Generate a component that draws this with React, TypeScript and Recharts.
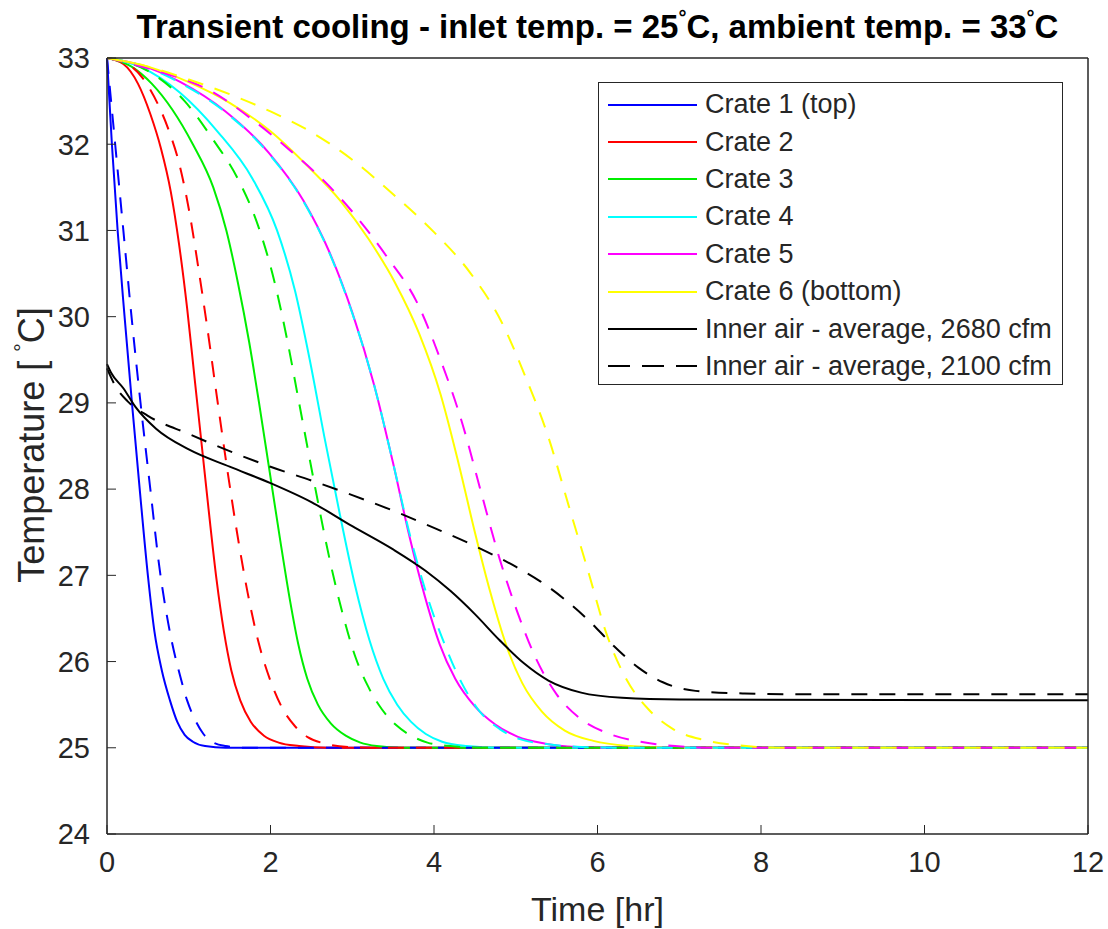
import React from "react";
import { LineChart, Line, XAxis, YAxis, Legend } from "recharts";

// [time (hr), temperature (°C)] pairs
type Pt = [number, number];

const timeTicks = [0, 2, 4, 6, 8, 10, 12];
const tempTicks = [24, 25, 26, 27, 28, 29, 30, 31, 32, 33];

// 2680 cfm runs (solid)
const crate1Solid: Pt[] = [[0, 33], [0.03, 32.5], [0.06, 32], [0.13, 31], [0.215, 30], [0.305, 29], [0.4, 28], [0.5, 27], [0.58, 26.35], [0.67, 25.9], [0.77, 25.55], [0.86, 25.3], [0.95, 25.15], [1.05, 25.07], [1.2, 25.02], [1.45, 25], [12, 25]];
const crate2Solid: Pt[] = [[0, 33], [0.2, 32.93], [0.38, 32.7], [0.53, 32.35], [0.66, 31.95], [0.78, 31.45], [0.88, 30.85], [0.98, 30.1], [1.07, 29.3], [1.16, 28.5], [1.25, 27.7], [1.34, 26.95], [1.43, 26.35], [1.52, 25.9], [1.63, 25.55], [1.76, 25.3], [1.92, 25.14], [2.1, 25.06], [2.35, 25.02], [2.7, 25], [12, 25]];
const crate3Solid: Pt[] = [[0, 33], [0.3, 32.9], [0.55, 32.7], [0.8, 32.4], [1.05, 32.0], [1.3, 31.5], [1.46, 31.0], [1.6, 30.4], [1.74, 29.7], [1.86, 29.0], [1.99, 28.2], [2.12, 27.4], [2.24, 26.7], [2.34, 26.2], [2.45, 25.8], [2.58, 25.5], [2.74, 25.28], [2.92, 25.14], [3.1, 25.06], [3.3, 25.02], [3.6, 25], [12, 25]];
const crate4Solid: Pt[] = [[0, 33], [0.4, 32.9], [0.89, 32.6], [1.35, 32.15], [1.78, 31.6], [2.08, 31.0], [2.3, 30.3], [2.48, 29.5], [2.66, 28.6], [2.85, 27.7], [3.03, 26.9], [3.21, 26.25], [3.38, 25.8], [3.55, 25.5], [3.72, 25.3], [3.9, 25.16], [4.1, 25.07], [4.4, 25.02], [4.8, 25], [12, 25]];
const crate5Solid: Pt[] = [[0, 33], [0.4, 32.92], [0.9, 32.72], [1.45, 32.38], [1.98, 31.9], [2.4, 31.35], [2.72, 30.75], [3.0, 30.05], [3.27, 29.2], [3.5, 28.3], [3.7, 27.45], [3.89, 26.75], [4.07, 26.2], [4.26, 25.8], [4.5, 25.48], [4.75, 25.27], [5.02, 25.13], [5.35, 25.05], [5.75, 25.01], [6.2, 25], [12, 25]];
const crate6Solid: Pt[] = [[0, 33], [0.5, 32.9], [1.0, 32.72], [1.5, 32.48], [2.0, 32.15], [2.45, 31.75], [2.85, 31.35], [3.2, 30.9], [3.52, 30.4], [3.82, 29.8], [4.08, 29.1], [4.3, 28.3], [4.5, 27.5], [4.69, 26.8], [4.88, 26.2], [5.08, 25.75], [5.32, 25.42], [5.6, 25.2], [5.95, 25.08], [6.4, 25.02], [6.9, 25], [12, 25]];
const airSolid: Pt[] = [[0, 29.45], [0.05, 29.35], [0.2, 29.17], [0.35, 28.95], [0.6, 28.7], [1.0, 28.46], [1.5, 28.26], [2.0, 28.07], [2.5, 27.85], [3.0, 27.57], [3.5, 27.3], [3.9, 27.05], [4.2, 26.82], [4.5, 26.55], [4.8, 26.25], [5.1, 25.98], [5.4, 25.78], [5.8, 25.64], [6.3, 25.58], [7, 25.56], [12, 25.55]];

// 2100 cfm runs (dashed)
const crate1Dashed: Pt[] = [[0, 33], [0.1, 32], [0.2, 31], [0.3, 30], [0.41, 29], [0.53, 28], [0.64, 27.1], [0.72, 26.6], [0.8, 26.2], [0.89, 25.85], [0.98, 25.55], [1.08, 25.32], [1.18, 25.16], [1.3, 25.06], [1.45, 25.02], [1.7, 25], [12, 25]];
const crate2Dashed: Pt[] = [[0, 33], [0.3, 32.9], [0.5, 32.68], [0.63, 32.45], [0.76, 32.15], [0.89, 31.75], [1.01, 31.2], [1.12, 30.55], [1.23, 29.85], [1.34, 29.1], [1.46, 28.3], [1.59, 27.5], [1.72, 26.8], [1.86, 26.2], [2.01, 25.75], [2.15, 25.45], [2.3, 25.25], [2.46, 25.12], [2.66, 25.05], [2.95, 25.01], [3.3, 25], [12, 25]];
const crate3Dashed: Pt[] = [[0, 33], [0.5, 32.85], [0.95, 32.5], [1.3, 32.05], [1.6, 31.6], [1.85, 31.05], [2.05, 30.4], [2.2, 29.75], [2.35, 29.0], [2.55, 28.0], [2.72, 27.2], [2.87, 26.6], [3.04, 26.05], [3.2, 25.7], [3.36, 25.45], [3.54, 25.26], [3.72, 25.14], [3.92, 25.06], [4.2, 25.02], [4.6, 25], [12, 25]];
const crate4Dashed: Pt[] = [[0, 33], [0.4, 32.92], [0.9, 32.71], [1.45, 32.37], [1.98, 31.89], [2.4, 31.34], [2.72, 30.74], [3.0, 30.04], [3.27, 29.2], [3.5, 28.3], [3.71, 27.45], [3.92, 26.75], [4.13, 26.2], [4.34, 25.75], [4.56, 25.42], [4.8, 25.22], [5.05, 25.1], [5.4, 25.04], [5.8, 25.01], [6.3, 25], [12, 25]];
const crate5Dashed: Pt[] = [[0, 33], [0.5, 32.88], [1.3, 32.6], [1.8, 32.27], [2.25, 31.92], [2.68, 31.55], [3.06, 31.15], [3.42, 30.7], [3.8, 30.15], [4.08, 29.5], [4.35, 28.75], [4.58, 27.95], [4.8, 27.2], [5.01, 26.6], [5.24, 26.05], [5.5, 25.62], [5.8, 25.33], [6.15, 25.16], [6.52, 25.07], [6.95, 25.02], [7.4, 25], [12, 25]];
const crate6Dashed: Pt[] = [[0, 33], [0.5, 32.9], [1.0, 32.75], [1.5, 32.58], [2.0, 32.38], [2.5, 32.14], [3.0, 31.82], [3.5, 31.42], [4.0, 30.98], [4.45, 30.5], [4.82, 29.95], [5.12, 29.3], [5.4, 28.6], [5.65, 27.8], [5.9, 27.0], [6.1, 26.35], [6.35, 25.8], [6.62, 25.45], [6.92, 25.22], [7.3, 25.09], [7.7, 25.03], [8.3, 25], [12, 25]];
const airDashed: Pt[] = [[0, 29.4], [0.1, 29.2], [0.25, 29.02], [0.5, 28.85], [1.0, 28.64], [1.5, 28.44], [2.0, 28.26], [2.5, 28.1], [3.0, 27.93], [3.5, 27.75], [4.0, 27.55], [4.5, 27.34], [5.0, 27.1], [5.3, 26.93], [5.6, 26.72], [5.9, 26.47], [6.2, 26.18], [6.5, 25.93], [6.8, 25.76], [7.2, 25.66], [7.8, 25.63], [8.5, 25.62], [12, 25.62]];

const FONT = '"Liberation Sans", Arial, Helvetica, sans-serif';
const INK = "#262626";
const DASH = "16 12";

const toRows = (pts: Pt[]) => pts.map(([t, T]) => ({ t, T }));

const series = [
  { key: "c1", name: "Crate 1 (top)", color: "#0000ff", pts: crate1Solid, dashed: false, legend: true },
  { key: "c2", name: "Crate 2", color: "#ff0000", pts: crate2Solid, dashed: false, legend: true },
  { key: "c3", name: "Crate 3", color: "#00ee00", pts: crate3Solid, dashed: false, legend: true },
  { key: "c4", name: "Crate 4", color: "#00ffff", pts: crate4Solid, dashed: false, legend: true },
  { key: "c5", name: "Crate 5", color: "#ff00ff", pts: crate5Solid, dashed: false, legend: true },
  { key: "c6", name: "Crate 6 (bottom)", color: "#ffff00", pts: crate6Solid, dashed: false, legend: true },
  { key: "a1", name: "Inner air - average, 2680 cfm", color: "#000000", pts: airSolid, dashed: false, legend: true },
  { key: "c1d", name: "Crate 1 - 2100 cfm", color: "#0000ff", pts: crate1Dashed, dashed: true, legend: false },
  { key: "c2d", name: "Crate 2 - 2100 cfm", color: "#ff0000", pts: crate2Dashed, dashed: true, legend: false },
  { key: "c3d", name: "Crate 3 - 2100 cfm", color: "#00ee00", pts: crate3Dashed, dashed: true, legend: false },
  { key: "c4d", name: "Crate 4 - 2100 cfm", color: "#00ffff", pts: crate4Dashed, dashed: true, legend: false },
  { key: "c5d", name: "Crate 5 - 2100 cfm", color: "#ff00ff", pts: crate5Dashed, dashed: true, legend: false },
  { key: "c6d", name: "Crate 6 - 2100 cfm", color: "#ffff00", pts: crate6Dashed, dashed: true, legend: false },
  { key: "a2", name: "Inner air - average, 2100 cfm", color: "#000000", pts: airDashed, dashed: true, legend: true },
];

function LegendBox() {
  return (
    <div
      style={{
        width: 465,
        height: 303,
        boxSizing: "border-box",
        border: `1.5px solid ${INK}`,
        background: "#fff",
        paddingTop: 3,
        fontFamily: FONT,
      }}
    >
      {series
        .filter((s) => s.legend)
        .map((s) => (
          <div key={s.key} style={{ display: "flex", alignItems: "center", height: 37.4 }}>
            <svg width={106} height={10} style={{ flex: "none" }}>
              <line x1={9} x2={98} y1={5} y2={5} stroke={s.color} strokeWidth={2} strokeDasharray={s.dashed ? "22 12" : undefined} />
            </svg>
            <span style={{ fontSize: 27, color: INK, whiteSpace: "nowrap", lineHeight: 1 }}>{s.name}</span>
          </div>
        ))}
    </div>
  );
}

const Title = () => (
  <text x={597.5} y={38} textAnchor="middle" fontSize={33} fontWeight="bold" fill="#000" fontFamily={FONT}>
    Transient cooling - inlet temp. = 25
    <tspan fontSize={20} dy={-14}>°</tspan>
    <tspan dy={14}>C, ambient temp. = 33</tspan>
    <tspan fontSize={20} dy={-14}>°</tspan>
    <tspan dy={14}>C</tspan>
  </text>
);

const XTitle = () => (
  <text x={597.5} y={921} textAnchor="middle" fontSize={34} fill={INK} fontFamily={FONT}>
    Time [hr]
  </text>
);

const YTitle = () => (
  <text x={44} y={445} transform="rotate(-90 44 445)" textAnchor="middle" fontSize={36} fill={INK} fontFamily={FONT}>
    Temperature [
    <tspan dx={9} fontSize={21} dy={-15}>°</tspan>
    <tspan dy={15}>C]</tspan>
  </text>
);

const tickStyle = { fontSize: 29, fill: INK, fontFamily: FONT };
const axisStyle = { stroke: INK, strokeWidth: 1.5 };

export default function App() {
  return (
    <div style={{ position: "absolute", left: 0, top: 0, width: 1108, height: 929, background: "#fff" }}>
      <LineChart width={1108} height={929} margin={{ top: 57, right: 19, bottom: 0, left: 0 }}>
        <XAxis
          xAxisId={0}
          dataKey="t"
          type="number"
          domain={[0, 12]}
          ticks={timeTicks}
          interval={0}
          height={95}
          tickSize={-9}
          tickMargin={26}
          tick={tickStyle}
          tickLine={{ stroke: INK }}
          axisLine={axisStyle}
          label={<XTitle />}
        />
        <XAxis
          xAxisId="top"
          orientation="top"
          type="number"
          domain={[0, 12]}
          ticks={timeTicks}
          interval={0}
          height={1}
          tickSize={-9}
          tick={false}
          tickLine={{ stroke: INK }}
          axisLine={axisStyle}
          label={<Title />}
        />
        <YAxis
          yAxisId={0}
          type="number"
          domain={[24, 33]}
          ticks={tempTicks}
          interval={0}
          width={107}
          tickSize={-9}
          tickMargin={26}
          tick={tickStyle}
          tickLine={{ stroke: INK }}
          axisLine={axisStyle}
          label={<YTitle />}
        />
        <YAxis
          yAxisId="right"
          orientation="right"
          type="number"
          domain={[24, 33]}
          ticks={tempTicks}
          interval={0}
          width={1}
          tickSize={-9}
          tick={false}
          tickLine={{ stroke: INK }}
          axisLine={axisStyle}
        />
        {series.map((s) => (
          <Line
            key={s.key}
            data={toRows(s.pts)}
            dataKey="T"
            name={s.name}
            type="monotone"
            stroke={s.color}
            strokeWidth={2}
            strokeDasharray={s.dashed ? DASH : undefined}
            dot={false}
            activeDot={false}
            legendType={s.legend ? "line" : "none"}
            isAnimationActive={false}
          />
        ))}
        <Legend
          layout="vertical"
          align="center"
          verticalAlign="middle"
          wrapperStyle={{ left: 598, top: 82, width: 465, height: 303 }}
          content={() => <LegendBox />}
        />
      </LineChart>
    </div>
  );
}
